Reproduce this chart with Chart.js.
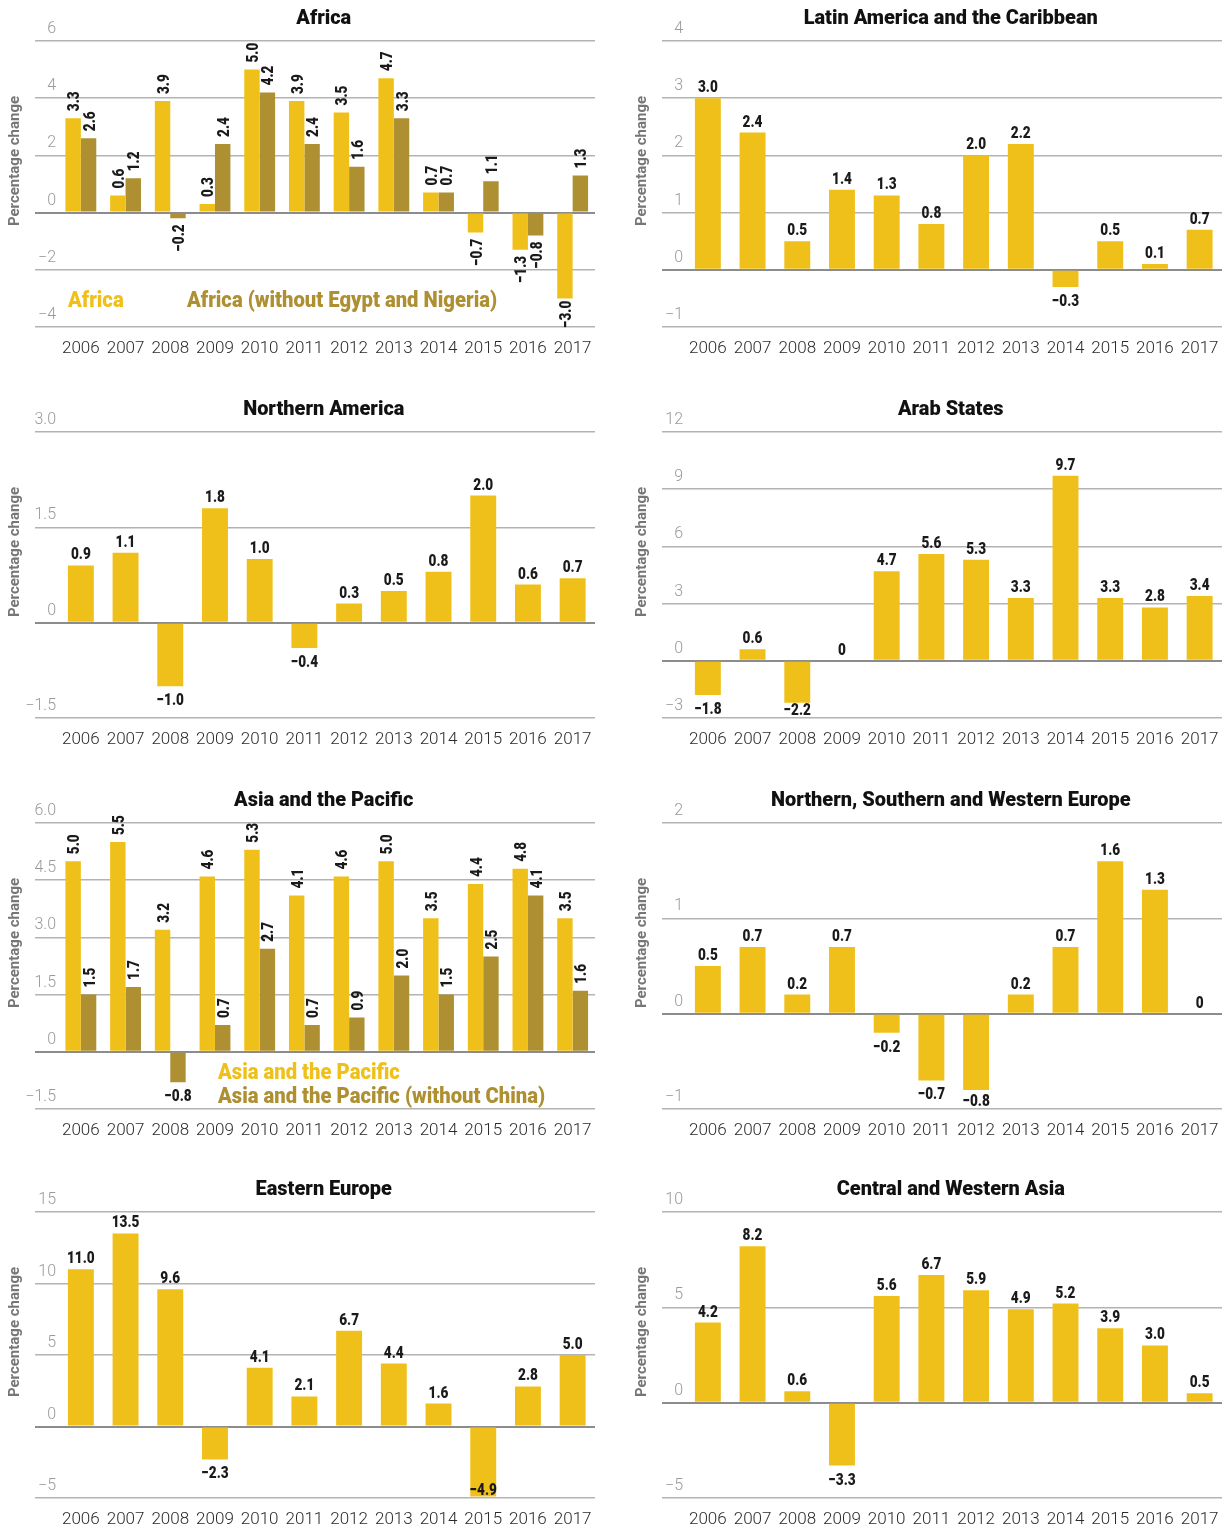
<!DOCTYPE html>
<html>
<head>
<meta charset="utf-8">
<script src="https://cdn.jsdelivr.net/npm/chart.js@4.4.1/dist/chart.umd.min.js"></script>
<style>
  body { margin: 0; background: #fff; }
  #wrap { position: relative; width: 1230px; height: 1529px; overflow: hidden; }
  #wrap canvas { position: absolute; }
</style>
</head>
<body>
<div id="wrap"></div>
<script>
// Données
const years = ['2006', '2007', '2008', '2009', '2010', '2011', '2012', '2013', '2014', '2015', '2016', '2017'];

const africa = [3.3, 0.6, 3.9, 0.3, 5.0, 3.9, 3.5, 4.7, 0.7, -0.7, -1.3, -3.0];
const africaNoEgyptNigeria = [2.6, 1.2, -0.2, 2.4, 4.2, 2.4, 1.6, 3.3, 0.7, 1.1, -0.8, 1.3];
const latinAmerica = [3.0, 2.4, 0.5, 1.4, 1.3, 0.8, 2.0, 2.2, -0.3, 0.5, 0.1, 0.7];
const northernAmerica = [0.9, 1.1, -1.0, 1.8, 1.0, -0.4, 0.3, 0.5, 0.8, 2.0, 0.6, 0.7];
const arabStates = [-1.8, 0.6, -2.2, 0, 4.7, 5.6, 5.3, 3.3, 9.7, 3.3, 2.8, 3.4];
const asiaPacific = [5.0, 5.5, 3.2, 4.6, 5.3, 4.1, 4.6, 5.0, 3.5, 4.4, 4.8, 3.5];
const asiaPacificNoChina = [1.5, 1.7, -0.8, 0.7, 2.7, 0.7, 0.9, 2.0, 1.5, 2.5, 4.1, 1.6];
const nswEurope = [0.5, 0.7, 0.2, 0.7, -0.2, -0.7, -0.8, 0.2, 0.7, 1.6, 1.3, 0];
const easternEurope = [11.0, 13.5, 9.6, -2.3, 4.1, 2.1, 6.7, 4.4, 1.6, -4.9, 2.8, 5.0];
const centralWesternAsia = [4.2, 8.2, 0.6, -3.3, 5.6, 6.7, 5.9, 4.9, 5.2, 3.9, 3.0, 0.5];

// graduations de l'axe vertical
const africaTicks = [-4, -2, 0, 2, 4, 6];
const latinTicks = [-1, 0, 1, 2, 3, 4];
const northAmTicks = [-1.5, 0, 1.5, 3.0];
const arabTicks = [-3, 0, 3, 6, 9, 12];
const asiaTicks = [-1.5, 0, 1.5, 3.0, 4.5, 6.0];
const europeTicks = [-1, 0, 1, 2];
const eastEuropeTicks = [-5, 0, 5, 10, 15];
const cwAsiaTicks = [-5, 0, 5, 10];

const YELLOW = '#f0c01a';
const OLIVE = '#ae9032';
const LABEL_FONT = '900 17px Roboto, sans-serif';

function fmt(v, dec) {
    if (Math.abs(v) < 1e-9) return '0';
    return v.toFixed(dec).replace('-', '\u2212');
}

// Texte "condensé" : on écrase horizontalement le Roboto gras
function narrowText(ctx, text, x, y, align, sx, rotate, dy) {
    ctx.save();
    ctx.translate(x, y);
    if (rotate) ctx.rotate(-Math.PI / 2);
    ctx.scale(sx, 1);
    ctx.textAlign = align;
    ctx.textBaseline = 'alphabetic';
    ctx.fillText(text, 0, dy || 0);
    ctx.restore();
}

// Étiquettes des barres
const barLabels = {
    id: 'barLabels',
    afterDatasetsDraw(chart, args, opts) {
        const ctx = chart.ctx;
        const area = chart.chartArea;
        const SX = 0.8;
        ctx.save();
        ctx.font = LABEL_FONT;
        ctx.fillStyle = '#1a1a1a';
        chart.data.datasets.forEach((ds, di) => {
            const meta = chart.getDatasetMeta(di);
            meta.data.forEach((bar, i) => {
                const v = ds.data[i];
                const text = fmt(v, 1);
                const rot = opts.rotate && (v >= 0 || opts.rotateNegative);
                if (rot) {
                    const len = ctx.measureText(text).width * SX;
                    let start;
                    if (v >= 0) {
                        start = bar.y - 7;
                    } else {
                        start = Math.min(bar.y + 6 + len, area.bottom + 1);
                    }
                    narrowText(ctx, text, bar.x, start, 'left', SX, true, 6);
                } else {
                    let y;
                    if (v >= 0) {
                        y = bar.y - 6;
                    } else {
                        y = Math.min(bar.y + 19, area.bottom - 3);
                    }
                    narrowText(ctx, text, bar.x, y, 'center', SX, false);
                }
            });
        });
        ctx.restore();
    }
};

// Titre, légende en texte coloré, titre d'axe
const extras = {
    id: 'extras',
    afterDraw(chart, args, opts) {
        const ctx = chart.ctx;
        const area = chart.chartArea;

        ctx.save();
        ctx.font = '900 21px Roboto, sans-serif';
        ctx.fillStyle = '#111';
        narrowText(ctx, opts.title, (area.left + area.right) / 2 - 3, 24, 'center', 0.95, false);
        ctx.restore();

        // titre de l'axe vertical
        ctx.save();
        ctx.translate(15, 161);
        ctx.rotate(-Math.PI / 2);
        ctx.font = 'bold 15px Roboto, sans-serif';
        ctx.fillStyle = '#767676';
        ctx.textAlign = 'center';
        ctx.textBaseline = 'middle';
        ctx.fillText('Percentage change', 0, 0);
        ctx.restore();

        if (opts.legend) {
            ctx.save();
            ctx.font = '900 22px Roboto, sans-serif';
            chart.data.datasets.forEach((ds, di) => {
                const pos = opts.legend[di];
                ctx.fillStyle = ds.backgroundColor;
                narrowText(ctx, ds.label, pos.x, pos.y, 'left', 0.92, false);
            });
            ctx.restore();
        }
    }
};

function makePanel(left, top, title, datasets, ticks, extra) {
    const canvas = document.createElement('canvas');
    canvas.width = 603;
    canvas.height = 358;
    canvas.style.left = left + 'px';
    canvas.style.top = top + 'px';
    document.getElementById('wrap').appendChild(canvas);

    const dec = ticks.some(t => !Number.isInteger(t)) ? 1 : 0;
    const double = datasets.length > 1;
    const isZero = c => c.tick && Math.abs(c.tick.value) < 1e-9;
    const gridColor = c => isZero(c) ? '#8c8c8c' : '#b3b3b3';
    const gridWidth = c => isZero(c) ? 2 : 1.5;

    const config = {
        type: 'bar',
        data: {
            labels: years,
            datasets: datasets.map(d => ({
                label: d.label,
                data: d.data,
                backgroundColor: d.color,
                borderWidth: 0,
                categoryPercentage: double ? 0.69 : 0.58,
                barPercentage: 1
            }))
        },
        options: {
            responsive: false,
            animation: false,
            layout: { padding: { left: 0, right: 8, top: 41, bottom: 0 } },
            plugins: {
                legend: { display: false },
                tooltip: { enabled: false },
                title: { display: false },
                barLabels: extra.labels,
                extras: { title: title, legend: extra.legend }
            },
            scales: {
                x: {
                    grid: { display: false },
                    border: { display: false },
                    ticks: {
                        color: '#2a2a2a',
                        font: { family: 'Roboto', size: 17, weight: '300' },
                        padding: 4,
                        maxRotation: 0,
                        autoSkip: false
                    },
                    afterFit: s => { s.height = 31; }
                },
                y: {
                    min: ticks[0],
                    max: ticks[ticks.length - 1],
                    border: { display: false },
                    grid: {
                        color: gridColor,
                        tickColor: gridColor,
                        lineWidth: gridWidth,
                        tickWidth: gridWidth,
                        tickLength: 23.5
                    },
                    ticks: {
                        stepSize: ticks[1] - ticks[0],
                        color: '#9a9a9a',
                        font: { family: 'Roboto', size: 16, weight: '300' },
                        padding: -21,
                        labelOffset: -12,
                        callback: v => fmt(v, dec)
                    },
                    afterFit: s => { s.width = 58.5; }
                }
            }
        },
        plugins: [barLabels, extras]
    };
    return new Chart(canvas.getContext('2d'), config);
}

window.addEventListener('load', () => {
    const L = 0, R = 627;
    const rows = [0, 391, 782, 1171];

    makePanel(L, rows[0], 'Africa', [
        { label: 'Africa', data: africa, color: YELLOW },
        { label: 'Africa (without Egypt and Nigeria)', data: africaNoEgyptNigeria, color: OLIVE }
    ], africaTicks, {
        labels: { rotate: true, rotateNegative: true },
        legend: [{ x: 68, y: 307 }, { x: 187, y: 307 }]
    });

    makePanel(R, rows[0], 'Latin America and the Caribbean', [
        { label: 'Latin America and the Caribbean', data: latinAmerica, color: YELLOW }
    ], latinTicks, { labels: { rotate: false } });

    makePanel(L, rows[1], 'Northern America', [
        { label: 'Northern America', data: northernAmerica, color: YELLOW }
    ], northAmTicks, { labels: { rotate: false } });

    makePanel(R, rows[1], 'Arab States', [
        { label: 'Arab States', data: arabStates, color: YELLOW }
    ], arabTicks, { labels: { rotate: false } });

    makePanel(L, rows[2], 'Asia and the Pacific', [
        { label: 'Asia and the Pacific', data: asiaPacific, color: YELLOW },
        { label: 'Asia and the Pacific (without China)', data: asiaPacificNoChina, color: OLIVE }
    ], asiaTicks, {
        labels: { rotate: true, rotateNegative: false },
        legend: [{ x: 218, y: 297 }, { x: 218, y: 321 }]
    });

    makePanel(R, rows[2], 'Northern, Southern and Western Europe', [
        { label: 'Northern, Southern and Western Europe', data: nswEurope, color: YELLOW }
    ], europeTicks, { labels: { rotate: false } });

    makePanel(L, rows[3], 'Eastern Europe', [
        { label: 'Eastern Europe', data: easternEurope, color: YELLOW }
    ], eastEuropeTicks, { labels: { rotate: false } });

    makePanel(R, rows[3], 'Central and Western Asia', [
        { label: 'Central and Western Asia', data: centralWesternAsia, color: YELLOW }
    ], cwAsiaTicks, { labels: { rotate: false } });
});
</script>
</body>
</html>
